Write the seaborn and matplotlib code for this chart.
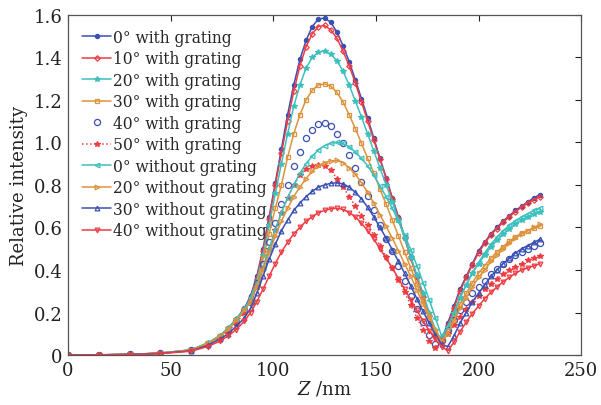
import matplotlib
matplotlib.use("Agg")
import matplotlib.pyplot as plt
import seaborn as sns
import pandas as pd

# ---------------- data ----------------
Z = [0, 15, 30, 45, 60, 68, 74, 78, 82, 86,
     89, 92, 95, 98, 101, 104, 107, 110, 113, 116,
     119, 122, 125, 128, 131, 134, 137, 140, 143, 146,
     149, 152, 155, 158, 161, 164, 167, 170, 173, 176,
     179, 182, 185, 188, 191, 194, 197, 200, 203, 206,
     209, 212, 215, 218, 221, 224, 227, 230]

deg0_with = [0, 0.001, 0.003, 0.009, 0.024, 0.055, 0.09, 0.125, 0.17, 0.22,
             0.28, 0.37, 0.50, 0.65, 0.81, 0.97, 1.13, 1.27, 1.39, 1.48,
             1.545, 1.58, 1.585, 1.565, 1.52, 1.455, 1.38, 1.295, 1.205, 1.115,
             1.02, 0.925, 0.835, 0.74, 0.65, 0.555, 0.46, 0.37, 0.28, 0.19,
             0.10, 0.07, 0.15, 0.23, 0.31, 0.37, 0.43, 0.49, 0.53, 0.57,
             0.60, 0.63, 0.655, 0.68, 0.70, 0.72, 0.74, 0.755]

deg10_with = [0, 0.001, 0.003, 0.009, 0.023, 0.053, 0.088, 0.122, 0.165, 0.215,
              0.27, 0.36, 0.49, 0.64, 0.80, 0.95, 1.10, 1.24, 1.36, 1.45,
              1.51, 1.545, 1.55, 1.53, 1.49, 1.43, 1.36, 1.28, 1.19, 1.10,
              1.01, 0.92, 0.83, 0.735, 0.645, 0.55, 0.455, 0.365, 0.275, 0.185,
              0.10, 0.06, 0.14, 0.22, 0.30, 0.365, 0.425, 0.48, 0.525, 0.565,
              0.595, 0.625, 0.65, 0.675, 0.695, 0.715, 0.73, 0.745]

deg20_with = [0, 0.001, 0.003, 0.009, 0.024, 0.055, 0.09, 0.125, 0.168, 0.215,
              0.27, 0.35, 0.47, 0.61, 0.76, 0.90, 1.04, 1.17, 1.27, 1.35,
              1.40, 1.425, 1.43, 1.415, 1.385, 1.335, 1.27, 1.195, 1.12, 1.04,
              0.96, 0.88, 0.80, 0.72, 0.635, 0.55, 0.46, 0.375, 0.29, 0.20,
              0.12, 0.07, 0.13, 0.20, 0.27, 0.33, 0.385, 0.43, 0.47, 0.51,
              0.54, 0.57, 0.595, 0.615, 0.635, 0.65, 0.665, 0.675]

deg30_with = [0, 0.001, 0.003, 0.008, 0.023, 0.052, 0.085, 0.12, 0.16, 0.21,
              0.26, 0.34, 0.45, 0.57, 0.69, 0.80, 0.93, 1.04, 1.13, 1.20,
              1.245, 1.27, 1.275, 1.265, 1.235, 1.19, 1.13, 1.065, 0.995, 0.925,
              0.855, 0.78, 0.71, 0.635, 0.56, 0.485, 0.41, 0.335, 0.26, 0.185,
              0.115, 0.065, 0.12, 0.18, 0.24, 0.29, 0.34, 0.385, 0.42, 0.455,
              0.485, 0.51, 0.535, 0.555, 0.575, 0.585, 0.597, 0.605]

deg40_with = [0, 0.001, 0.003, 0.008, 0.022, 0.05, 0.082, 0.115, 0.155, 0.205,
              0.25, 0.34, 0.43, 0.53, 0.62, 0.71, 0.80, 0.89, 0.955, 1.02,
              1.06, 1.085, 1.09, 1.075, 1.04, 0.995, 0.94, 0.88, 0.815, 0.75,
              0.68, 0.61, 0.545, 0.49, 0.42, 0.35, 0.28, 0.215, 0.155, 0.095,
              0.05, 0.07, 0.12, 0.165, 0.21, 0.25, 0.29, 0.32, 0.35, 0.38,
              0.405, 0.43, 0.45, 0.47, 0.485, 0.50, 0.515, 0.525]

deg50_with = [0, 0.001, 0.003, 0.008, 0.02, 0.048, 0.08, 0.11, 0.15, 0.20,
              0.25, 0.32, 0.41, 0.50, 0.59, 0.67, 0.74, 0.80, 0.845, 0.875,
              0.89, 0.895, 0.89, 0.87, 0.83, 0.79, 0.745, 0.70, 0.655, 0.61,
              0.565, 0.515, 0.46, 0.41, 0.355, 0.295, 0.235, 0.175, 0.12, 0.065,
              0.035, 0.07, 0.10, 0.14, 0.18, 0.215, 0.25, 0.28, 0.31, 0.335,
              0.36, 0.38, 0.40, 0.415, 0.43, 0.445, 0.455, 0.465]

deg0_without = [0, 0.001, 0.003, 0.009, 0.025, 0.057, 0.092, 0.127, 0.17, 0.215,
                0.26, 0.33, 0.41, 0.50, 0.59, 0.67, 0.74, 0.80, 0.855, 0.90,
                0.935, 0.965, 0.985, 0.997, 1.0, 0.995, 0.98, 0.955, 0.925, 0.89,
                0.845, 0.795, 0.745, 0.69, 0.63, 0.565, 0.495, 0.42, 0.34, 0.26,
                0.175, 0.09, 0.13, 0.20, 0.27, 0.33, 0.385, 0.435, 0.48, 0.52,
                0.555, 0.585, 0.61, 0.63, 0.65, 0.665, 0.68, 0.69]

deg20_without = [0, 0.001, 0.003, 0.009, 0.024, 0.055, 0.088, 0.122, 0.163, 0.21,
                 0.25, 0.32, 0.40, 0.48, 0.56, 0.63, 0.69, 0.745, 0.79, 0.83,
                 0.865, 0.89, 0.905, 0.913, 0.915, 0.905, 0.88, 0.85, 0.81, 0.765,
                 0.715, 0.66, 0.605, 0.55, 0.49, 0.43, 0.37, 0.305, 0.24, 0.175,
                 0.115, 0.065, 0.10, 0.16, 0.22, 0.27, 0.32, 0.365, 0.40, 0.44,
                 0.47, 0.50, 0.525, 0.55, 0.57, 0.585, 0.60, 0.615]

deg30_without = [0, 0.001, 0.003, 0.008, 0.02, 0.045, 0.075, 0.10, 0.135, 0.175,
                 0.22, 0.29, 0.37, 0.45, 0.52, 0.585, 0.635, 0.68, 0.715, 0.745,
                 0.77, 0.79, 0.80, 0.808, 0.81, 0.805, 0.79, 0.765, 0.735, 0.695,
                 0.65, 0.60, 0.55, 0.495, 0.44, 0.385, 0.325, 0.265, 0.205, 0.15,
                 0.095, 0.05, 0.04, 0.09, 0.15, 0.20, 0.25, 0.29, 0.33, 0.37,
                 0.40, 0.43, 0.455, 0.48, 0.50, 0.515, 0.53, 0.545]

deg40_without = [0, 0.001, 0.002, 0.007, 0.018, 0.04, 0.065, 0.09, 0.12, 0.16,
                 0.20, 0.25, 0.31, 0.37, 0.43, 0.485, 0.53, 0.57, 0.60, 0.63,
                 0.65, 0.67, 0.68, 0.688, 0.69, 0.685, 0.67, 0.65, 0.62, 0.585,
                 0.545, 0.50, 0.455, 0.41, 0.36, 0.31, 0.26, 0.21, 0.16, 0.115,
                 0.075, 0.04, 0.02, 0.06, 0.11, 0.155, 0.195, 0.23, 0.265, 0.295,
                 0.32, 0.345, 0.365, 0.385, 0.40, 0.41, 0.42, 0.43]

labels = ["0° with grating", "10° with grating", "20° with grating",
          "30° with grating", "40° with grating", "50° with grating",
          "0° without grating", "20° without grating", "30° without grating",
          "40° without grating"]
x_ticks = [0, 50, 100, 150, 200, 250]
y_ticks = [0, 0.2, 0.4, 0.6, 0.8, 1.0, 1.2, 1.4, 1.6]
y_ticklabels = ["0", "0.2", "0.4", "0.6", "0.8", "1.0", "1.2", "1.4", "1.6"]

series = [deg0_with, deg10_with, deg20_with, deg30_with, deg40_with, deg50_with,
          deg0_without, deg20_without, deg30_without, deg40_without]

# ---------------- style ----------------
BLUE = "#3a50b4"
RED = "#ee3c42"
TEAL = "#3cc0be"
ORANGE = "#dd923c"

styles = [
    dict(color=BLUE, marker="o", markersize=3.0, linestyle="-", markerfacecolor=BLUE),
    dict(color=RED, marker="D", markersize=2.8, linestyle="-", markerfacecolor="none"),
    dict(color=TEAL, marker="*", markersize=4.2, linestyle="-", markerfacecolor=TEAL),
    dict(color=ORANGE, marker="s", markersize=3.2, linestyle="-", markerfacecolor="none"),
    dict(color=BLUE, marker="o", markersize=4.4, linestyle="none", markerfacecolor="none"),
    dict(color=RED, marker="*", markersize=4.2, linestyle=":", markerfacecolor=RED),
    dict(color=TEAL, marker="<", markersize=3.4, linestyle="-", markerfacecolor="none"),
    dict(color=ORANGE, marker=">", markersize=3.4, linestyle="-", markerfacecolor="none"),
    dict(color=BLUE, marker="^", markersize=3.4, linestyle="-", markerfacecolor="none"),
    dict(color=RED, marker="v", markersize=3.4, linestyle="-", markerfacecolor="none"),
]

sns.set_theme(style="white")
plt.rcParams["font.family"] = ["DejaVu Serif"]
plt.rcParams["mathtext.fontset"] = "dejavuserif"

fig = plt.figure(figsize=(6.01, 4.06), dpi=100)
ax = fig.add_axes([0.113, 0.123, 0.854, 0.838])

for vals, lab, st in zip(series, labels, styles):
    df = pd.DataFrame({"Z": Z, "I": vals})
    sns.lineplot(data=df, x="Z", y="I", ax=ax, label=lab, sort=False,
                 estimator=None, linewidth=1.1, markeredgewidth=0.9,
                 markeredgecolor=st["color"], **st)

ax.set_xlim(0, 250)
ax.set_ylim(0, 1.6)
ax.set_xticks(x_ticks)
ax.set_yticks(y_ticks)
ax.set_yticklabels(y_ticklabels)
ax.tick_params(direction="in", top=True, right=True, length=4, width=0.8,
               labelsize=13, colors="#222222", pad=4)
for s in ax.spines.values():
    s.set_color("#555555")
    s.set_linewidth(0.9)

ax.set_xlabel(r"$\mathit{Z}$ /nm", fontsize=13, color="#222222", labelpad=0)
ax.set_ylabel("Relative intensity", fontsize=13, color="#222222", labelpad=4)

leg = ax.legend(loc="upper left", frameon=False, fontsize=11.2,
                handlelength=1.9, handletextpad=0.1, labelspacing=0.29,
                borderaxespad=0.5, bbox_to_anchor=(0.0, 1.0))

fig.savefig("out.png", dpi=100, facecolor="white")
